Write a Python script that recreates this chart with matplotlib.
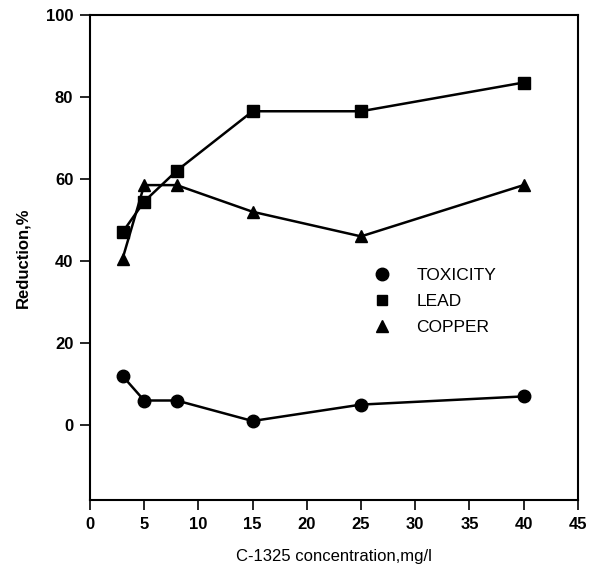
import matplotlib.pyplot as plt
from matplotlib.lines import Line2D

plt.rcParams['font.family'] = ['Liberation Sans', 'DejaVu Sans']

# Concentración de C-1325 (mg/l)
conc = [3, 5, 8, 15, 25, 40]

# Reducción (%)
toxicity = [12, 6, 6, 1, 5, 7]
lead = [47, 54.5, 62, 76.5, 76.5, 83.5]
copper = [40.5, 58.5, 58.5, 52, 46, 58.5]

xticks = [0, 5, 10, 15, 20, 25, 30, 35, 40, 45]
yticks = [0, 20, 40, 60, 80, 100]

fig = plt.figure(figsize=(5.92, 5.71), dpi=100)
ax = fig.add_axes([0.152, 0.124, 0.824, 0.850])

ax.plot(conc, toxicity, color='black', lw=1.8, marker='o', ms=9)
ax.plot(conc, lead, color='black', lw=1.8, marker='s', ms=8.5)
ax.plot(conc, copper, color='black', lw=1.8, marker='^', ms=9)

ax.set_xlim(0, 45)
ax.set_ylim(-18.3, 100)
ax.set_xticks(xticks)
ax.set_yticks(yticks)
ax.tick_params(direction='out', length=7, width=1.2, labelsize=12, pad=5)
for lbl in ax.get_xticklabels() + ax.get_yticklabels():
    lbl.set_fontweight('bold')
for s in ax.spines.values():
    s.set_linewidth(1.5)

ax.set_xlabel('C-1325 concentration,mg/l', fontsize=12, labelpad=12)
ax.set_ylabel('Reduction,%', fontsize=12, fontweight='bold', labelpad=11)

handles = [
    Line2D([], [], color='black', marker='o', ls='none', ms=9),
    Line2D([], [], color='black', marker='s', ls='none', ms=7),
    Line2D([], [], color='black', marker='^', ls='none', ms=8),
]
ax.legend(handles, ['TOXICITY', 'LEAD', 'COPPER'], loc='upper left',
          bbox_to_anchor=(0.53, 0.51), frameon=False, fontsize=12.5,
          handletextpad=1.0, labelspacing=0.6)

fig.savefig('out.png', dpi=100)
